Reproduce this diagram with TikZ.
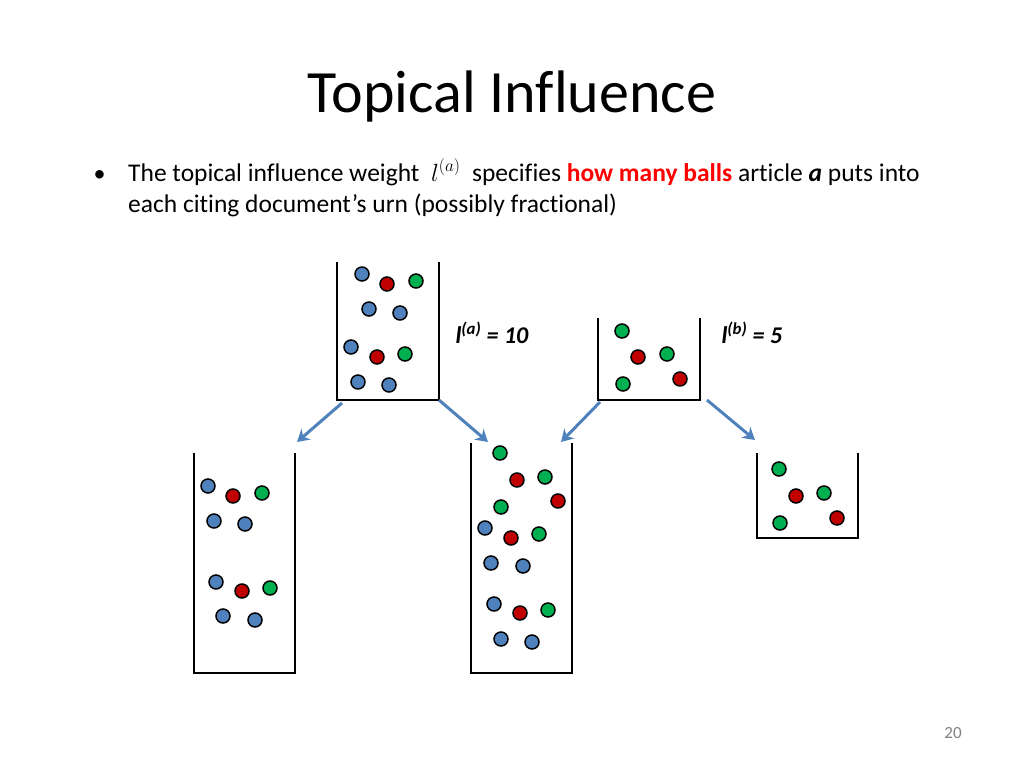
\documentclass[tikz,border=0pt]{standalone}
\usepackage{amsmath}
\usepackage{fontspec}
\setmainfont{Carlito}[Ligatures=NoCommon]
\usetikzlibrary{positioning,arrows.meta}
\definecolor{ballblue}{RGB}{79,129,189}
\definecolor{ballred}{RGB}{192,0,0}
\definecolor{ballgreen}{RGB}{0,176,80}
\definecolor{hlred}{RGB}{255,0,0}

\tikzset{
  ball/.style = {circle, draw, line width=1.5pt, minimum size=14pt, inner sep=0pt},
  b/.style = {ball, fill=ballblue},
  r/.style = {ball, fill=ballred},
  g/.style = {ball, fill=ballgreen},
  urn/.style = {line width=2pt},
  flow/.style = {draw=ballblue, line width=3pt, -{Stealth[length=12pt,width=14pt]}}
}
% urn: left, right, top, bottom
\newcommand{\Urn}[4]{\draw[urn] (#1,#3) -- (#1,#4) -- (#2,#4) -- (#2,#3);}

\begin{document}
\begin{tikzpicture}[x=1pt,y=-1pt]
\useasboundingbox (0,0) rectangle (1024,768);

\node (title) at (512,97) {\fontsize{60}{66}\selectfont Topical Influence};
\node[anchor=base west] (bul) at (90,181) {\fontsize{24}{28}\selectfont •};
\node[anchor=base west, align=left, inner sep=0pt] (txt) at (128,181)
  {\fontsize{25.5}{30}\selectfont The topical influence weight \ $l^{(a)}$ \ specifies
   \textcolor{hlred}{\textbf{how many balls}} article \textbf{\textit{a}} puts into};
\node[anchor=base west, inner sep=0pt] (txt2) at (128,212)
  {\fontsize{25.5}{30}\selectfont each citing document’s urn (possibly fractional)};

\node[anchor=west] (la) at (452,333) {\fontsize{24}{28}\selectfont\textbf{\textit{l}$^{\textbf{\textit{(a)}}}$\textbf{\textit{ = 10}}}};
\node[anchor=west] (lb) at (718,333) {\fontsize{24}{28}\selectfont\textbf{\textit{l}$^{\textbf{\textit{(b)}}}$\textbf{\textit{ = 5}}}};

% urns
\Urn{337}{439}{262}{400}
\Urn{598}{700}{318}{400}
\Urn{194}{295}{453}{673}
\Urn{471}{572}{443}{673}
\Urn{757}{858}{453}{538}

% balls
\foreach \s/\x/\y in {b/362/274, r/387/284, g/416/281, b/369/309, b/400/313,
  b/351/347, r/377/357, g/405/354, b/358/382, b/389/385,
  g/622/331, r/638/357, g/667/354, g/623/384, r/680/379,
  b/208/486, r/233/496, g/262/493, b/214/521, b/245/524,
  b/216/582, r/242/591, g/270/588, b/223/616, b/255/620,
  g/500/453, r/517/480, g/545/477, r/558/501, g/501/507,
  b/485/528, r/511/538, g/539/534, b/491/563, b/523/566,
  b/494/604, r/520/613, g/548/610, b/501/639, b/532/642,
  g/779/469, r/796/496, g/824/493, g/780/523, r/837/518}
  \node[\s] at (\x,\y) {};

% arrows
\coordinate (a1) at (342,403); \coordinate (a1e) at (297,442);
\coordinate (a2) at (439,400); \coordinate (a2e) at (488,442);
\coordinate (b1) at (600,402); \coordinate (b1e) at (561,442);
\coordinate (b2) at (707,400); \coordinate (b2e) at (755,440);
\draw[flow] (a1) -- (a1e);
\draw[flow] (a2) -- (a2e);
\draw[flow] (b1) -- (b1e);
\draw[flow] (b2) -- (b2e);

\node[text=gray] (pg) at (953,733) {\fontsize{17}{20}\selectfont 20};
\end{tikzpicture}
\end{document}
